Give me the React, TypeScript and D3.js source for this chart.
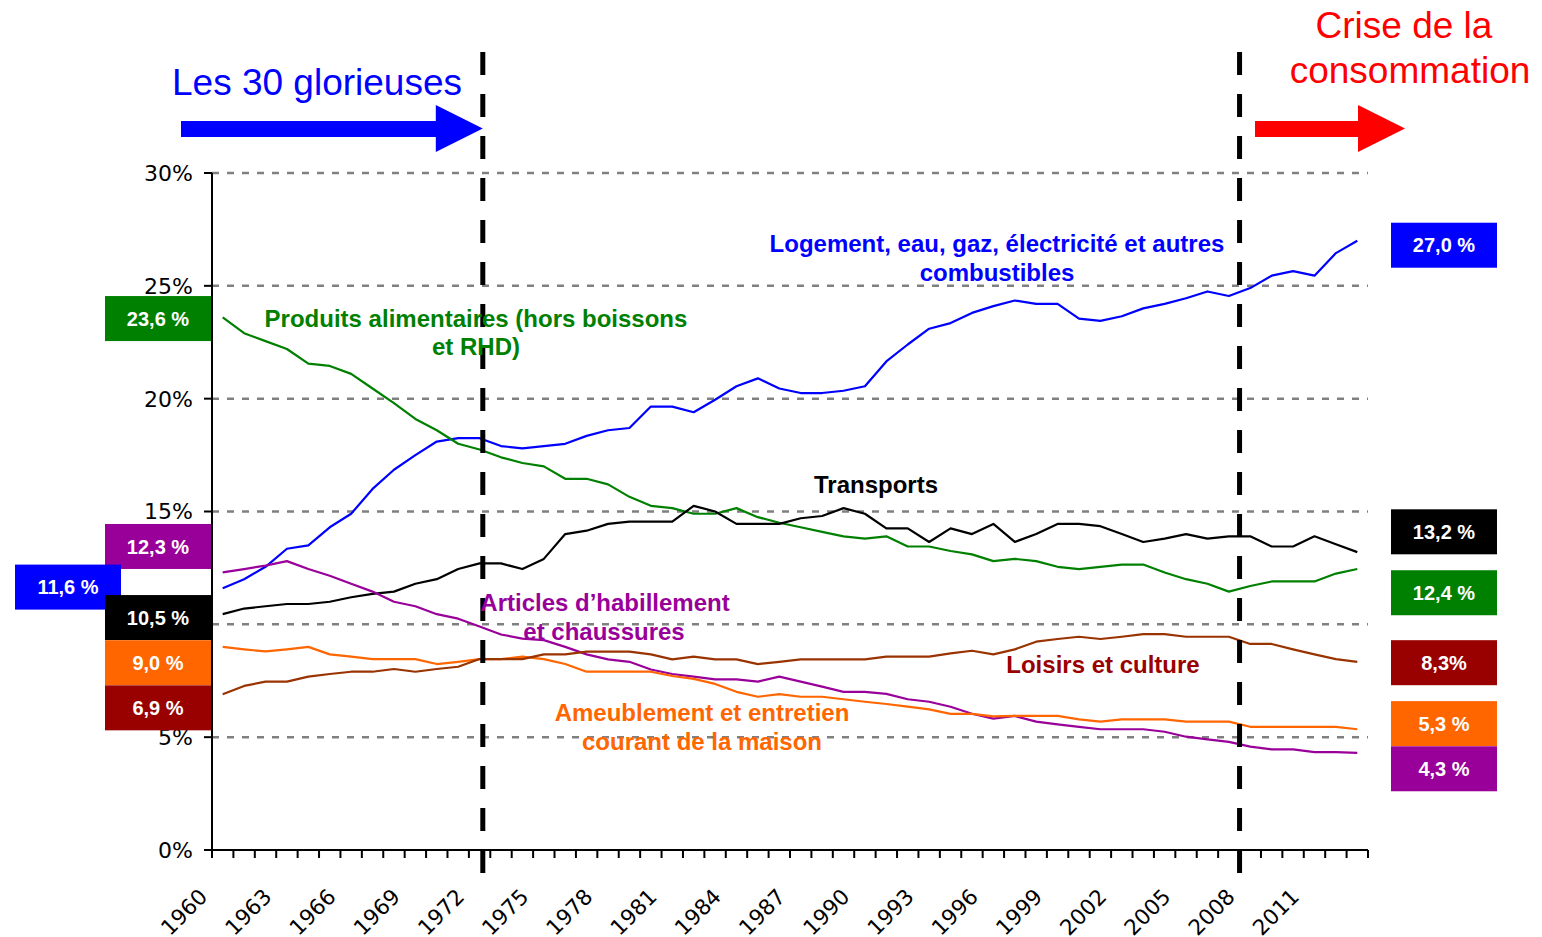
import * as d3 from "d3";
import React from "react";

// années 1960 -> 2013, une valeur par an (part de la consommation, en %)
const years = d3.range(1960, 2014);
const tickYears = d3.range(1960, 2012, 3);
const yTicks = [0, 5, 10, 15, 20, 25, 30];
const eventYears = [1972.65, 2008];

const logement = [
  11.6, 12.0, 12.55, 13.35, 13.5, 14.3, 14.9, 16.0, 16.85, 17.5, 18.1, 18.25, 18.25, 17.9,
  17.8, 17.9, 18.0, 18.35, 18.6, 18.7, 19.65, 19.65, 19.4, 19.95, 20.55, 20.9, 20.45, 20.25,
  20.25, 20.35, 20.55, 21.65, 22.4, 23.1, 23.35, 23.8, 24.1, 24.35, 24.2, 24.2, 23.55, 23.45,
  23.65, 24.0, 24.2, 24.45, 24.75, 24.55, 24.9, 25.45, 25.65, 25.45, 26.45, 27.0,
];
const alimentaire = [
  23.6, 22.9, 22.55, 22.2, 21.55, 21.45, 21.1, 20.45, 19.8, 19.1, 18.6, 18.0, 17.75, 17.4,
  17.15, 17.0, 16.45, 16.45, 16.2, 15.65, 15.25, 15.15, 14.9, 14.9, 15.15, 14.75, 14.5, 14.3,
  14.1, 13.9, 13.8, 13.9, 13.45, 13.45, 13.25, 13.1, 12.8, 12.9, 12.8, 12.55, 12.45, 12.55,
  12.65, 12.65, 12.3, 12.0, 11.8, 11.45, 11.7, 11.9, 11.9, 11.9, 12.25, 12.45,
];
const transports = [
  10.45, 10.7, 10.8, 10.9, 10.9, 11.0, 11.2, 11.35, 11.45, 11.8, 12.0, 12.45, 12.7, 12.7,
  12.45, 12.9, 14.0, 14.15, 14.45, 14.55, 14.55, 14.55, 15.25, 15.0, 14.45, 14.45, 14.45, 14.7,
  14.8, 15.15, 14.9, 14.25, 14.25, 13.65, 14.25, 14.0, 14.45, 13.65, 14.0, 14.45, 14.45, 14.35,
  14.0, 13.65, 13.8, 14.0, 13.8, 13.9, 13.9, 13.45, 13.45, 13.9, 13.55, 13.2,
];
const habillement = [
  12.3, 12.45, 12.6, 12.8, 12.45, 12.15, 11.8, 11.45, 11.0, 10.8, 10.45, 10.25, 9.9, 9.55,
  9.37, 9.3, 9.0, 8.67, 8.45, 8.34, 8.0, 7.8, 7.68, 7.56, 7.56, 7.46, 7.68, 7.46,
  7.24, 7.01, 7.01, 6.92, 6.68, 6.57, 6.35, 6.04, 5.82, 5.94, 5.69, 5.57, 5.46, 5.35,
  5.35, 5.35, 5.24, 5.02, 4.9, 4.79, 4.58, 4.46, 4.46, 4.34, 4.34, 4.3,
];
const ameublement = [
  9.0, 8.89, 8.8, 8.89, 9.0, 8.67, 8.57, 8.46, 8.46, 8.46, 8.24, 8.34, 8.46, 8.46,
  8.57, 8.46, 8.24, 7.9, 7.9, 7.9, 7.9, 7.71, 7.58, 7.36, 7.01, 6.79, 6.91, 6.79,
  6.79, 6.68, 6.57, 6.47, 6.35, 6.23, 6.03, 6.03, 5.92, 5.94, 5.94, 5.94, 5.79, 5.69,
  5.79, 5.79, 5.79, 5.69, 5.69, 5.69, 5.46, 5.46, 5.46, 5.46, 5.46, 5.35,
];
const loisirs = [
  6.9, 7.27, 7.46, 7.46, 7.68, 7.8, 7.9, 7.9, 8.02, 7.9, 8.02, 8.12, 8.46, 8.46,
  8.46, 8.67, 8.67, 8.79, 8.79, 8.79, 8.67, 8.45, 8.57, 8.45, 8.45, 8.24, 8.34, 8.45,
  8.45, 8.45, 8.45, 8.57, 8.57, 8.57, 8.71, 8.83, 8.67, 8.89, 9.23, 9.35, 9.45, 9.35,
  9.45, 9.57, 9.57, 9.45, 9.45, 9.45, 9.13, 9.13, 8.89, 8.67, 8.46, 8.34,
];

const startLabels = ["23,6 %", "12,3 %", "11,6 %", "10,5 %", "9,0 %", "6,9 %"];
const endLabels = ["27,0 %", "13,2 %", "12,4 %", "8,3%", "5,3 %", "4,3 %"];

const BLUE = "#0000ff";
const GREEN = "#008000";
const PURPLE = "#990099";
const ORANGE = "#ff6600";
const BROWN = "#993300";
const DARKRED = "#990000";

const series = [
  { values: logement, color: BLUE },
  { values: alimentaire, color: GREEN },
  { values: transports, color: "#000000" },
  { values: habillement, color: PURPLE },
  { values: ameublement, color: ORANGE },
  { values: loisirs, color: BROWN },
];

// boîtes de valeurs (à gauche : 1960, à droite : 2013), centre vertical en %
const leftBoxes = [
  { text: startLabels[0], color: GREEN, x: 105, at: 23.55 },
  { text: startLabels[1], color: PURPLE, x: 105, at: 13.45 },
  { text: startLabels[2], color: BLUE, x: 15, at: 11.65 },
  { text: startLabels[3], color: "#000000", x: 105, at: 10.3 },
  { text: startLabels[4], color: ORANGE, x: 105, at: 8.3 },
  { text: startLabels[5], color: DARKRED, x: 105, at: 6.3 },
];
const rightBoxes = [
  { text: endLabels[0], color: BLUE, at: 26.8 },
  { text: endLabels[1], color: "#000000", at: 14.1 },
  { text: endLabels[2], color: GREEN, at: 11.4 },
  { text: endLabels[3], color: DARKRED, at: 8.3 },
  { text: endLabels[4], color: ORANGE, at: 5.6 },
  { text: endLabels[5], color: PURPLE, at: 3.6 },
];

const W = 1542;
const H = 937;

export default function App() {
  const x = d3.scaleLinear().domain([1960, 2014]).range([212, 1368]);
  const y = d3.scaleLinear().domain([0, 30]).range([850, 173]);

  const line = d3
    .line<number>()
    .x((_, i) => x(years[i] + 0.5))
    .y((d) => y(d));

  const axisFont = "'DejaVu Sans', Verdana, sans-serif";
  const labelFont = "'Liberation Sans', Arial, sans-serif";

  const arrow = (x0: number, x1: number, color: string) => {
    const head = 47;
    const p = d3.path();
    p.moveTo(x0, 121);
    p.lineTo(x1 - head, 121);
    p.lineTo(x1 - head, 105);
    p.lineTo(x1, 128.5);
    p.lineTo(x1 - head, 152);
    p.lineTo(x1 - head, 137);
    p.lineTo(x0, 137);
    p.closePath();
    return <path d={p.toString()} fill={color} />;
  };

  return (
    <svg
      width={W}
      height={H}
      style={{ position: "absolute", left: 0, top: 0, background: "#fff" }}
    >
      {/* grille */}
      {yTicks.slice(1).map((t) => (
        <line
          key={t}
          x1={x(1960)}
          x2={x(2014)}
          y1={y(t)}
          y2={y(t)}
          stroke="#808080"
          strokeWidth={2.5}
          strokeDasharray="7,8"
        />
      ))}

      {/* axe Y */}
      <line x1={x(1960)} x2={x(1960)} y1={y(30)} y2={y(0)} stroke="#000" strokeWidth={2} />
      {yTicks.map((t) => (
        <g key={t}>
          <line x1={x(1960) - 8} x2={x(1960)} y1={y(t)} y2={y(t)} stroke="#000" strokeWidth={2} />
          <text
            x={193}
            y={y(t)}
            dy="0.36em"
            textAnchor="end"
            fontFamily={axisFont}
            fontSize={22}
            fill="#000"
          >
            {t}%
          </text>
        </g>
      ))}

      {/* axe X */}
      <line x1={x(1960)} x2={x(2014)} y1={y(0)} y2={y(0)} stroke="#000" strokeWidth={2} />
      {d3.range(1960, 2015).map((yr) => (
        <line key={yr} x1={x(yr)} x2={x(yr)} y1={y(0)} y2={y(0) + 8} stroke="#000" strokeWidth={2} />
      ))}
      {tickYears.map((yr) => (
        <text
          key={yr}
          transform={`translate(${x(yr + 0.5) - 14},${898}) rotate(-45)`}
          textAnchor="end"
          fontFamily={axisFont}
          fontSize={21.5}
          fill="#000"
        >
          {yr}
        </text>
      ))}

      {/* séries */}
      {series.map((s, i) => (
        <path
          key={i}
          d={line(s.values) || ""}
          fill="none"
          stroke={s.color}
          strokeWidth={2.2}
          strokeLinejoin="round"
        />
      ))}

      {/* ruptures */}
      {eventYears.map((yr) => (
        <line
          key={yr}
          x1={x(yr)}
          x2={x(yr)}
          y1={52}
          y2={873}
          stroke="#000"
          strokeWidth={5}
          strokeDasharray="23,19"
        />
      ))}

      {/* flèches et titres */}
      {arrow(181, x(eventYears[0]), BLUE)}
      {arrow(1255, 1405, "#ff0000")}
      <text x={317} y={95} textAnchor="middle" fontFamily={labelFont} fontSize={37} fill={BLUE}>
        Les 30 glorieuses
      </text>
      <text x={1404} y={38} textAnchor="middle" fontFamily={labelFont} fontSize={37} fill="#ff0000">
        Crise de la
      </text>
      <text x={1410} y={83} textAnchor="middle" fontFamily={labelFont} fontSize={37} fill="#ff0000">
        consommation
      </text>

      {/* étiquettes des séries */}
      <g fontFamily={labelFont} fontWeight="bold" fontSize={24} textAnchor="middle">
        <text x={997} y={252} fill={BLUE}>Logement, eau, gaz, électricité et autres</text>
        <text x={997} y={281} fill={BLUE}>combustibles</text>
        <text x={476} y={327} fill={GREEN}>Produits alimentaires (hors boissons</text>
        <text x={476} y={355} fill={GREEN}>et RHD)</text>
        <text x={876} y={493} fill="#000">Transports</text>
        <text x={605} y={611} fill={PURPLE}>Articles d’habillement</text>
        <text x={604} y={640} fill={PURPLE}>et chaussures</text>
        <text x={1103} y={673} fill={DARKRED}>Loisirs et culture</text>
        <text x={702} y={721} fill={ORANGE}>Ameublement et entretien</text>
        <text x={702} y={750} fill={ORANGE}>courant de la maison</text>
      </g>

      {/* boîtes de valeurs */}
      {leftBoxes.map((b, i) => (
        <g key={"l" + i}>
          <rect x={b.x} y={y(b.at) - 22.5} width={106} height={45} fill={b.color} />
          <text
            x={b.x + 53}
            y={y(b.at)}
            dy="0.36em"
            textAnchor="middle"
            fontFamily={labelFont}
            fontWeight="bold"
            fontSize={20}
            fill="#fff"
          >
            {b.text}
          </text>
        </g>
      ))}
      {rightBoxes.map((b, i) => (
        <g key={"r" + i}>
          <rect x={1391} y={y(b.at) - 22.5} width={106} height={45} fill={b.color} />
          <text
            x={1444}
            y={y(b.at)}
            dy="0.36em"
            textAnchor="middle"
            fontFamily={labelFont}
            fontWeight="bold"
            fontSize={20}
            fill="#fff"
          >
            {b.text}
          </text>
        </g>
      ))}
    </svg>
  );
}
